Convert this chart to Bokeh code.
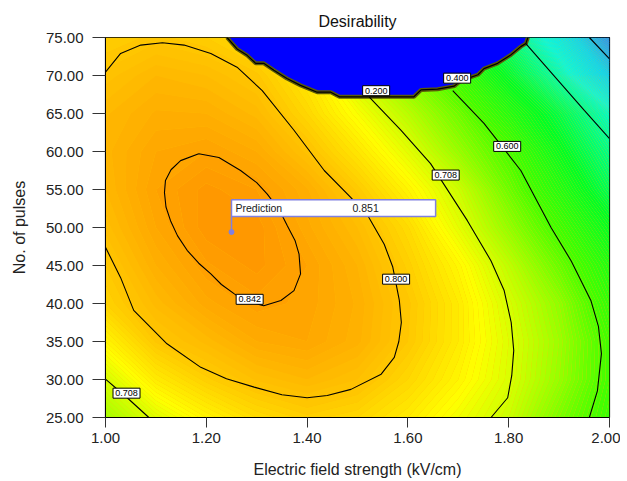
import numpy as np
from bokeh.plotting import figure
from bokeh.models import Range1d, FixedTicker, PrintfTickFormatter, Label
from bokeh.embed import file_html
from bokeh.resources import INLINE
from bokeh.core.properties import value

# ---------------- data ----------------
x_ticks = [1.0, 1.2, 1.4, 1.6, 1.8, 2.0]
y_ticks = [25, 30, 35, 40, 45, 50, 55, 60, 65, 70, 75]

# desirability estimated on a grid (x = field strength, y = pulses)
grid_x = [1.0, 1.1, 1.2, 1.3, 1.4, 1.5, 1.6, 1.7, 1.8, 1.9, 2.0]
grid_y = [25, 30, 35, 40, 45, 50, 55, 60, 65, 70, 75]
d_y25 = [0.670, 0.715, 0.750, 0.775, 0.788, 0.780, 0.760, 0.730, 0.700, 0.640, 0.585]
d_y30 = [0.707, 0.760, 0.788, 0.806, 0.815, 0.805, 0.780, 0.750, 0.712, 0.660, 0.595]
d_y35 = [0.750, 0.796, 0.812, 0.830, 0.835, 0.822, 0.795, 0.760, 0.715, 0.665, 0.595]
d_y40 = [0.785, 0.812, 0.833, 0.843, 0.838, 0.824, 0.797, 0.760, 0.708, 0.655, 0.575]
d_y45 = [0.795, 0.825, 0.844, 0.852, 0.840, 0.820, 0.788, 0.748, 0.690, 0.625, 0.550]
d_y50 = [0.807, 0.835, 0.853, 0.853, 0.832, 0.810, 0.776, 0.720, 0.658, 0.590, 0.510]
d_y55 = [0.815, 0.840, 0.852, 0.845, 0.826, 0.793, 0.750, 0.700, 0.628, 0.550, 0.460]
d_y60 = [0.818, 0.835, 0.840, 0.830, 0.803, 0.765, 0.718, 0.660, 0.600, 0.510, 0.420]
d_y65 = [0.814, 0.826, 0.825, 0.813, 0.780, 0.735, 0.685, 0.628, 0.550, 0.470, 0.370]
d_y70 = [0.802, 0.815, 0.810, 0.797, 0.762, 0.700, 0.645, 0.580, 0.490, 0.385, 0.240]
d_y75 = [0.790, 0.797, 0.790, 0.770, 0.730, 0.670, 0.600, 0.520, 0.430, 0.310, 0.140]

# contour lines
c842_x = [1.185, 1.225, 1.268, 1.300, 1.321, 1.345, 1.361, 1.376, 1.384, 1.387, 1.374, 1.348, 1.314,
          1.275, 1.255, 1.230, 1.209, 1.185, 1.162, 1.143, 1.129, 1.120, 1.117, 1.119, 1.130, 1.149, 1.185]
c842_y = [59.7, 59.2, 57.5, 55.9, 54.4, 52.3, 50.2, 48.3, 46.5, 43.9, 41.7, 40.4, 39.7,
          40.4, 41.3, 42.5, 43.9, 45.3, 47.0, 48.9, 50.9, 52.7, 54.6, 56.2, 57.6, 58.8, 59.7]
c800_x = [1.000, 1.030, 1.070, 1.113, 1.156, 1.209, 1.261, 1.311, 1.374, 1.434, 1.486, 1.520, 1.553,
          1.570, 1.583, 1.587, 1.582, 1.573, 1.547, 1.487, 1.440, 1.400, 1.350, 1.295, 1.240, 1.189,
          1.122, 1.056, 1.030, 1.000]
c800_y = [70.45, 72.9, 74.0, 74.3, 74.0, 72.9, 71.1, 68.0, 62.8, 57.5, 54.0, 51.6, 47.8,
          44.8, 40.4, 37.5, 35.0, 32.9, 30.7, 28.7, 27.9, 27.6, 28.0, 29.0, 30.1, 31.6,
          34.7, 39.1, 43.4, 47.4]
c708a_x = [1.523, 1.586, 1.645, 1.718, 1.765, 1.791, 1.805, 1.810, 1.806, 1.798, 1.765]
c708a_y = [67.2, 62.8, 58.4, 50.9, 45.6, 41.7, 37.5, 33.8, 30.5, 27.6, 25.0]
c708b_x = [1.000, 1.043, 1.086]
c708b_y = [30.06, 27.6, 25.0]
c600_x = [1.689, 1.751, 1.824, 1.884, 1.924, 1.963, 1.978, 1.984, 1.976, 1.960]
c600_y = [68.0, 63.7, 57.5, 50.0, 45.6, 40.4, 37.0, 33.4, 28.5, 25.0]
c400_x = [1.834, 1.950, 2.000]
c400_y = [74.2, 65.4, 61.7]
c200_x = [1.960, 2.000]
c200_y = [75.0, 72.2]

# infeasible (desirability = 0) region boundary
bnd_x = [1.241, 1.261, 1.281, 1.298, 1.314, 1.334, 1.360, 1.387, 1.420, 1.447, 1.464, 1.612,
         1.626, 1.659, 1.692, 1.705, 1.739, 1.751, 1.778, 1.804, 1.824, 1.834, 1.838]
bnd_y = [75.0, 73.5, 72.65, 71.6, 71.6, 70.7, 69.6, 68.7, 67.8, 67.8, 67.2, 67.2,
         68.1, 68.2, 68.6, 69.3, 70.1, 70.9, 71.6, 72.7, 73.8, 74.2, 75.0]

# contour labels
label_x = [1.286, 1.5766, 1.675, 1.0417, 1.797, 1.6977, 1.537]
label_y = [40.55, 43.2, 56.9, 28.2, 60.67, 69.65, 68.0]
label_text = ["0.842", "0.800", "0.708", "0.708", "0.600", "0.400", "0.200"]

# prediction flag
pred_x = 1.25
pred_y = 49.4
pred_text = "0.851"

# ---------------- styling helpers ----------------
FONT = "Liberation Sans"
stop_vals = [0.00, 0.15, 0.25, 0.35, 0.42, 0.50, 0.60, 0.708, 0.74, 0.80, 0.855, 0.90]
stop_r = [0, 30, 0, 0, 0, 0, 70, 213, 255, 255, 255, 255]
stop_g = [0, 150, 215, 250, 255, 255, 255, 255, 255, 196, 150, 120]
stop_b = [255, 255, 255, 230, 140, 40, 0, 0, 0, 0, 0, 0]


def color_at(v):
    r = int(round(np.interp(v, stop_vals, stop_r)))
    g = int(round(np.interp(v, stop_vals, stop_g)))
    b = int(round(np.interp(v, stop_vals, stop_b)))
    return "#%02x%02x%02x" % (r, g, b)


Z = np.array([d_y25, d_y30, d_y35, d_y40, d_y45, d_y50, d_y55, d_y60, d_y65, d_y70, d_y75])
levels = np.round(np.arange(0.0, 0.8701, 0.005), 4)
mids = (levels[:-1] + levels[1:]) / 2.0
fill_colors = [color_at(m) for m in mids]

# ---------------- figure ----------------
p = figure(width=620, height=481, x_range=Range1d(1.0, 2.0), y_range=Range1d(25, 75),
           output_backend="svg", toolbar_location=None, title="Desirability",
           min_border_left=105, min_border_right=11, min_border_top=37, min_border_bottom=64)
p.title.align = "center"
p.title.text_font = FONT
p.title.text_font_size = "16px"
p.title.text_font_style = "normal"
p.title.text_color = "#111111"
p.title.standoff = 15
p.xgrid.visible = False
p.ygrid.visible = False
p.background_fill_color = "#ffc000"
p.border_fill_color = "white"
p.outline_line_color = "black"
p.outline_line_width = 1.2

cr = p.contour(x=grid_x, y=grid_y, z=Z, levels=levels, fill_color=fill_colors)
try:
    fg = cr.fill_renderer.glyph
    fg.line_color = fg.fill_color
    fg.line_width = 0.8
except Exception:
    pass
try:
    cr.line_renderer.visible = False
except Exception:
    pass

# infeasible region
p.patch(bnd_x, bnd_y, fill_color="#0000ff", line_color=None)
p.line(bnd_x, bnd_y, line_color="#5a5a08", line_width=4)
p.line(bnd_x, bnd_y, line_color="black", line_width=1.2)

# contour lines
for cx, cy in [(c842_x, c842_y), (c800_x, c800_y), (c708a_x, c708a_y), (c708b_x, c708b_y),
               (c600_x, c600_y), (c400_x, c400_y), (c200_x, c200_y)]:
    p.line(cx, cy, line_color="black", line_width=1.1)

# contour labels
p.rect(x=label_x, y=label_y, width=27, height=10, width_units="screen", height_units="screen",
       fill_color="white", line_color="black", line_width=1)
p.text(x=label_x, y=label_y, text=label_text, text_align="center", text_baseline="middle",
       text_font=value(FONT), text_font_size="9px", text_color="black")

# prediction flag
flag_col = "#8080e0"
p.segment(x0=[pred_x], y0=[pred_y], x1=[pred_x], y1=[pred_y + 2.05], line_color=flag_col, line_width=1.5)
p.quad(left=[pred_x], right=[pred_x + 0.405], bottom=[pred_y + 2.05], top=[pred_y + 4.25],
       fill_color="white", line_color=flag_col, line_width=1.5)
p.scatter([pred_x], [pred_y], size=5, fill_color=flag_col, line_color=flag_col)
p.add_layout(Label(x=pred_x, y=pred_y + 3.15, x_offset=4, text="Prediction", text_baseline="middle",
                   text_font=FONT, text_font_size="10.5px", text_color="#1a1a1a"))
p.add_layout(Label(x=pred_x + 0.24, y=pred_y + 3.15, text=pred_text, text_baseline="middle",
                   text_font=FONT, text_font_size="10.5px", text_color="#1a1a1a"))

# axes
for ax in (p.xaxis[0], p.yaxis[0]):
    ax.major_label_text_font = FONT
    ax.major_label_text_font_size = "15px"
    ax.major_label_text_color = "#222222"
    ax.axis_label_text_font = FONT
    ax.axis_label_text_font_size = "16px"
    ax.axis_label_text_font_style = "normal"
    ax.axis_label_text_color = "#222222"
    ax.minor_tick_line_color = None
    ax.major_tick_in = 0
    ax.axis_line_color = "black"
    ax.major_tick_line_color = "#333333"
    ax.formatter = PrintfTickFormatter(format="%.2f")

p.xaxis.ticker = FixedTicker(ticks=x_ticks)
p.yaxis.ticker = FixedTicker(ticks=y_ticks)
p.xaxis.major_tick_out = 10
p.yaxis.major_tick_out = 13
p.xaxis.major_label_standoff = 5
p.yaxis.major_label_standoff = 9
p.xaxis.axis_label = "Electric field strength (kV/cm)"
p.yaxis.axis_label = "No. of pulses"
p.xaxis.axis_label_standoff = 15
p.yaxis.axis_label_standoff = 15

open("out.html", "w").write(file_html(p, INLINE))
